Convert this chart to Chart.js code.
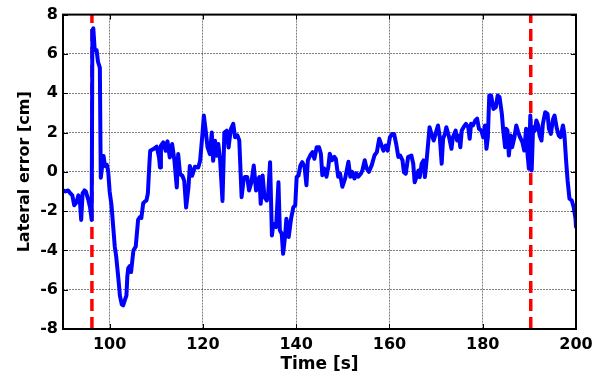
<!DOCTYPE html>
<html>
<head>
<meta charset="utf-8">
<title>Lateral error</title>
<script src="https://cdn.jsdelivr.net/npm/chart.js@4.4.1/dist/chart.umd.min.js"></script>
<style>
  html, body { margin: 0; padding: 0; background: #fff; }
  #plot { display: block; }
</style>
</head>
<body>
<canvas id="plot" width="604" height="378"></canvas>
<script>
// Lateral tracking error over time
const time = [
  90.0, 90.5, 91.1, 91.6, 92.0, 92.4, 92.9, 93.3, 93.6, 93.9, 94.2, 94.6, 94.9, 95.4, 95.8, 96.15,
  96.3, 96.5, 96.8, 97.2, 97.5, 97.9, 98.1, 98.4, 98.7, 99.0, 99.4, 99.7, 100.0, 100.4, 100.6,
  101.1, 101.4, 101.9, 102.2, 102.6, 102.9, 103.3, 103.6, 103.8, 104.0, 104.3, 104.6, 105.1,
  105.6, 106.1, 106.5, 106.8, 107.2, 107.6, 107.9, 108.2, 108.5, 108.7, 109.4, 110.1, 110.6,
  110.8, 111.0, 111.5, 112.0, 112.4, 112.9, 113.4, 113.9, 114.4, 114.7, 115.1, 115.6, 116.0,
  116.4, 116.9, 117.2, 117.7, 118.3, 119.0, 119.4, 119.9, 120.2, 120.6, 121.0, 121.5, 121.9,
  122.2, 122.6, 122.9, 123.3, 123.7, 124.2, 124.6, 125.1, 125.5, 126.0, 126.5, 126.9, 127.4,
  127.8, 128.3, 128.7, 129.0, 129.5, 129.9, 130.4, 130.9, 131.4, 131.7, 132.1, 132.4, 132.8,
  133.2, 133.7, 134.0, 134.4, 134.8, 135.1, 135.7, 136.2, 136.5, 136.9, 137.2, 137.6, 137.9,
  138.4, 138.9, 139.4, 139.8, 140.1, 140.5, 140.9, 141.3, 141.8, 142.2, 142.5, 143.0, 143.5,
  143.9, 144.4, 144.9, 145.3, 145.6, 146.0, 146.5, 146.9, 147.2, 147.7, 148.2, 148.5, 149.0,
  149.4, 149.9, 150.5, 151.2, 151.6, 152.0, 152.5, 152.9, 153.3, 153.9, 154.2, 154.7, 155.1,
  155.6, 156.2, 156.8, 157.3, 157.8, 158.2, 158.7, 159.2, 159.6, 160.1, 160.6, 161.0, 161.5,
  161.9, 162.3, 162.8, 163.1, 163.5, 164.0, 164.7, 165.1, 165.4, 165.8, 166.2, 166.5, 166.9,
  167.3, 167.6, 168.0, 168.6, 169.0, 169.5, 170.0, 170.4, 170.8, 171.2, 171.5, 171.9, 172.2,
  172.7, 173.3, 173.6, 174.2, 174.5, 174.9, 175.2, 175.5, 175.9, 176.4, 176.9, 177.2, 177.5,
  177.9, 178.4, 178.8, 179.2, 179.7, 180.1, 180.5, 180.8, 181.1, 181.4, 181.8, 182.3, 182.8,
  183.2, 183.6, 184.1, 184.4, 184.8, 185.0, 185.3, 185.6, 186.0, 186.3, 186.8, 187.2, 187.6,
  188.0, 188.5, 188.9, 189.3, 189.6, 189.9, 190.2, 190.5, 190.8, 191.2, 191.5, 191.9, 192.2,
  192.6, 192.9, 193.4, 193.9, 194.2, 194.6, 195.1, 195.4, 195.9, 196.3, 196.7, 197.2, 197.5,
  197.9, 198.2, 198.6, 199.1, 199.5, 199.9, 200.0
];
const lateralError = [
  -0.95, -1.0, -0.95, -1.1, -1.2, -1.7, -1.55, -1.2, -1.4, -2.45, -1.1, -0.95, -1.0, -1.4, -1.8, -2.45,
  7.2, 7.3, 6.2, 6.2, 5.6, 5.3, -0.3, 0.3, 0.8, 0.3, 0.35, 0.0, -1.0, -1.7, -2.3,
  -3.8, -4.3, -5.5, -6.3, -6.75, -6.8, -6.5, -6.3, -5.3, -4.9, -4.8, -5.1, -4.0,
  -3.8, -2.45, -2.3, -2.35, -1.6, -1.5, -1.45, -1.1, 0.3, 1.07, 1.16, 1.28, 0.73,
  0.22, 1.33, 1.5, 1.07, 1.55, 0.73, 1.41, 0.56, -0.8, 0.9, -0.12, -0.2, -0.46,
  -1.82, -0.8, 0.3, -0.2, 0.26, 0.22, 0.56, 1.92, 2.86, 2.09, 1.24, 0.9, 2.0,
  0.56, 1.58, 0.82, 1.41, 0.56, -1.48, 2.0, 2.09, 1.24, 2.18, 2.44, 1.76, 1.85,
  1.6, -1.29, -0.44, -0.27, -0.27, -0.95, -0.53, 0.32, -0.95, -0.44, -0.27, -1.63, -0.19,
  -1.29, -1.46, -1.12, 0.49, -3.24, -2.64, -2.81, -0.53, -2.98, -3.15, -4.17, -3.32, -2.39,
  -3.32, -2.39, -1.8, -1.71, -0.27, -0.19, 0.32, 0.49, 0.24, -0.69, 0.58, 0.83, 1.0,
  0.66, 1.25, 1.25, 0.92, -0.17, 0.17, -0.25, 0.25, 0.92, 0.59, 0.76, 0.66, -0.25,
  -0.08, -0.76, -0.34, 0.51, -0.25, 0.0, -0.34, -0.08, -0.25, -0.08, 0.08, 0.59, 0.17,
  0.0, 0.34, 0.84, 1.0, 1.68, 1.42, 1.08, 1.34, 1.08, 1.76, 1.93, 1.93, 1.34,
  0.76, 0.83, 0.58, -0.02, -0.1, 0.75, 0.83, 0.41, -0.53, -0.27, 0.07, -0.27, 0.41,
  0.58, -0.27, 0.66, 2.27, 1.93, 1.59, 2.02, 2.36, 1.76, 0.41, 1.68, 1.93, 2.27,
  1.85, 1.17, 1.76, 2.1, 1.59, 1.85, 1.25, 2.1, 2.27, 2.44, 2.27, 1.68, 2.44,
  2.36, 2.61, 2.7, 2.19, 2.1, 1.76, 2.36, 1.17, 1.76, 3.88, 3.88, 3.2, 3.29,
  3.88, 3.8, 2.95, 2.1, 1.25, 2.19, 2.1, 0.83, 1.85, 1.25, 1.76, 2.36, 2.02,
  1.76, 1.51, 1.08, 2.19, 0.92, 0.15, 2.86, 0.07, 2.27, 2.1, 2.61, 2.36, 1.85,
  1.59, 2.44, 3.03, 2.95, 2.19, 1.93, 2.7, 2.86, 2.19, 1.85, 1.76, 2.36, 1.93,
  0.49, -0.44, -1.37, -1.46, -1.8, -2.39, -2.8
];

// Event markers (red dashed verticals)
const markerTimes = [96.2, 190.3];

const xTicks = [100, 120, 140, 160, 180, 200];
const yTicks = [-8, -6, -4, -2, 0, 2, 4, 6, 8];
const xMin = 90, xMax = 200;
const yMin = -8, yMax = 8;

Chart.defaults.font.family = "'DejaVu Sans', sans-serif";
Chart.defaults.font.weight = 'bold';
Chart.defaults.color = '#000';

const errorPoints = time.map((t, i) => ({ x: t, y: lateralError[i] }));

const markerSets = markerTimes.map(t => ({
  data: [{ x: t, y: yMin }, { x: t, y: yMax }],
  borderColor: '#ff0000',
  borderWidth: 3.5,
  borderDash: [12, 6],
  pointRadius: 0,
  fill: false
}));

// box around the axes with small inward ticks
const frameBox = {
  id: 'frameBox',
  afterDatasetsDraw(chart) {
    const { ctx, chartArea: a, scales } = chart;
    ctx.save();
    ctx.strokeStyle = '#000';
    ctx.lineWidth = 1;
    ctx.beginPath();
    xTicks.forEach(v => {
      const px = Math.round(scales.x.getPixelForValue(v)) + 0.5;
      ctx.moveTo(px, a.bottom); ctx.lineTo(px, a.bottom - 5);
      ctx.moveTo(px, a.top); ctx.lineTo(px, a.top + 5);
    });
    yTicks.forEach(v => {
      const py = Math.round(scales.y.getPixelForValue(v)) + 0.5;
      ctx.moveTo(a.left, py); ctx.lineTo(a.left + 5, py);
      ctx.moveTo(a.right, py); ctx.lineTo(a.right - 5, py);
    });
    ctx.stroke();
    ctx.lineWidth = 2;
    ctx.strokeRect(a.left, a.top, a.right - a.left, a.bottom - a.top);
    ctx.restore();
  }
};

// dotted grey grid
const gridStyle = {
  color: 'rgba(0,0,0,0.5)',
  lineWidth: 1,
  drawTicks: false
};
const gridBorder = { display: false, dash: [2, 1] };

new Chart(document.getElementById('plot'), {
  type: 'line',
  data: {
    datasets: [{
      data: errorPoints,
      borderColor: '#0000ff',
      borderWidth: 4,
      borderJoinStyle: 'round',
      borderCapStyle: 'round',
      pointRadius: 0,
      tension: 0,
      fill: false
    }, ...markerSets]
  },
  options: {
    responsive: false,
    animation: false,
    events: [],
    layout: { padding: { top: 14, right: 28, left: 0, bottom: 0 } },
    plugins: { legend: { display: false }, tooltip: { enabled: false } },
    scales: {
      x: {
        type: 'linear',
        min: xMin,
        max: xMax,
        afterBuildTicks: s => { s.ticks = xTicks.map(v => ({ value: v })); },
        afterFit: s => { s.height = 49; },
        grid: gridStyle,
        border: gridBorder,
        ticks: { padding: 6, font: { size: 16, weight: 'bold' }, maxRotation: 0 },
        title: {
          display: true,
          text: 'Time [s]',
          font: { size: 17, weight: 'bold' },
          padding: { top: 0, bottom: 3 }
        }
      },
      y: {
        min: yMin,
        max: yMax,
        afterBuildTicks: s => { s.ticks = yTicks.map(v => ({ value: v })); },
        afterFit: s => { s.width = 63; },
        grid: gridStyle,
        border: gridBorder,
        ticks: { padding: 5, font: { size: 16, weight: 'bold' } },
        title: {
          display: true,
          text: 'Lateral error [cm]',
          font: { size: 16, weight: 'bold' },
          padding: { top: 15, bottom: 0 }
        }
      }
    }
  },
  plugins: [frameBox]
});
</script>
</body>
</html>
